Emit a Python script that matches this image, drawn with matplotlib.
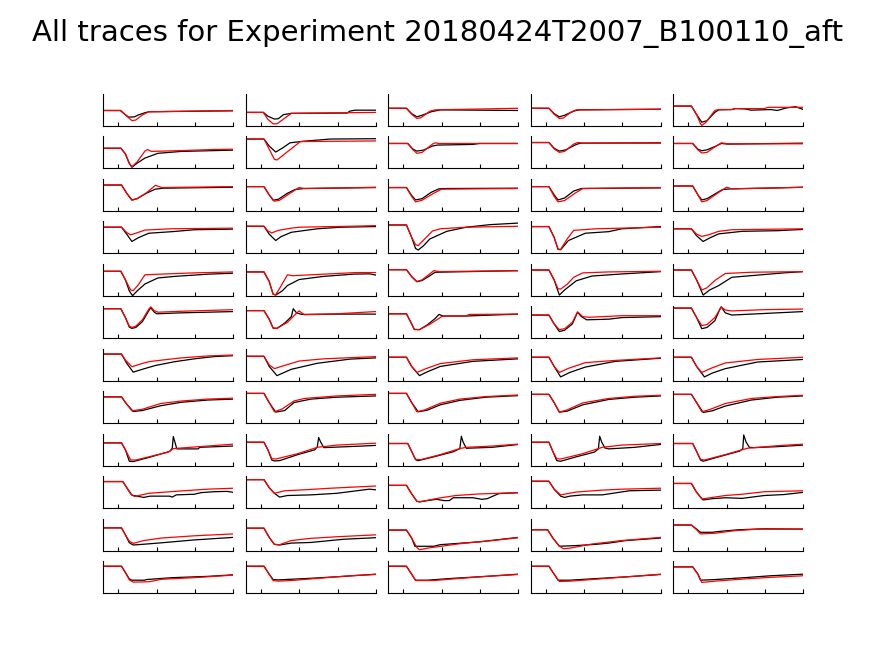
import matplotlib
matplotlib.use('Agg')
import matplotlib.pyplot as plt

title = 'All traces for Experiment 20180424T2007_B100110_aft'

# keypoints per panel as (time, value) in axis units (x 0..10, y 0..10)
# measured = black trace, fitted = red trace; indexed [row][col]
measured = [
    [[(0,4.8),(1.3,4.8),(1.6,3.8),(1.95,2.7),(2.4,2.8),(2.7,3.4),(3.2,4.1),(3.5,4.4),(10,4.7)],
     [(0,4.2),(1.35,4.2),(1.7,3.0),(2.2,2.1),(2.5,2.2),(2.9,3.5),(3.5,3.9),(7.8,4.0),(8.0,4.6),(8.4,4.9),(10,4.9)],
     [(0,5.5),(1.4,5.5),(1.8,3.8),(2.2,2.8),(2.6,3.3),(3.3,4.4),(4.0,5.0),(10,4.8)],
     [(0,5.5),(1.4,5.5),(1.8,3.8),(2.2,2.8),(2.6,3.3),(3.3,4.6),(3.7,5.0),(10,5.2)],
     [(0,6.2),(1.4,6.2),(1.8,3.5),(2.2,1.1),(2.6,1.6),(3.2,4.2),(3.5,5.0),(4.5,5.1),(4.8,5.4),(5.5,5.3),(6.0,4.9),(7.5,5.1),(8.0,4.8),(8.7,5.6),(9.4,6.0),(10,5.1)]],
    [[(0,6.3),(1.35,6.3),(1.7,4.5),(2.0,1.5),(2.2,0.3),(2.6,1.6),(3.2,3.2),(4.2,4.7),(6.0,5.3),(10,5.7)],
     [(0,9.2),(1.4,9.2),(1.8,7.0),(2.3,5.1),(2.8,6.3),(3.4,8.0),(4.2,8.4),(5.0,8.7),(6.5,9.2),(10,9.3)],
     [(0,7.8),(1.5,7.8),(1.9,6.0),(2.2,5.4),(2.7,5.7),(3.4,7.0),(3.8,7.3),(6.5,7.5),(7.0,7.8),(10,7.8)],
     [(0,8.1),(1.4,8.1),(1.8,6.3),(2.2,5.4),(2.7,5.8),(3.4,7.3),(3.8,7.9),(10,8.0)],
     [(0,7.8),(1.5,7.8),(1.9,6.0),(2.2,5.5),(2.6,5.8),(3.3,7.0),(3.7,7.8),(4.2,7.6),(10,7.9)]],
    [[(0,8.1),(1.4,8.1),(1.8,5.5),(2.2,3.4),(2.6,3.8),(3.3,5.5),(4.0,6.8),(4.6,7.1),(10,7.4)],
     [(0,7.6),(1.4,7.6),(1.8,5.0),(2.1,3.3),(2.5,3.6),(3.2,5.5),(3.8,6.7),(4.5,7.0),(10,7.3)],
     [(0,7.3),(1.4,7.3),(1.8,4.8),(2.1,3.4),(2.6,3.8),(3.3,5.8),(3.9,6.9),(4.5,7.0),(10,7.1)],
     [(0,7.6),(1.4,7.6),(1.8,5.0),(2.1,3.4),(2.6,4.0),(3.3,6.2),(3.9,7.0),(10,7.2)],
     [(0,7.8),(1.5,7.8),(1.9,5.0),(2.2,3.4),(2.6,3.8),(3.3,5.5),(3.8,6.7),(4.5,6.9),(8.0,7.2),(10,7.4)]],
    [[(0,8.2),(1.4,8.2),(1.8,6.0),(2.2,3.7),(2.7,4.9),(3.5,6.3),(5.3,6.8),(7.0,7.4),(10,7.6)],
     [(0,8.5),(1.4,8.5),(1.8,6.0),(2.3,4.0),(2.7,5.2),(3.5,6.6),(5.5,7.7),(7.3,8.2),(10,8.4)],
     [(0,8.9),(1.4,8.9),(1.8,5.0),(2.1,1.5),(2.3,1.0),(2.7,2.3),(3.2,4.5),(4.5,6.9),(6.0,8.2),(7.8,9.0),(10,9.5)],
     [(0,8.4),(1.4,8.4),(1.8,5.0),(2.1,1.2),(2.3,1.1),(2.9,4.0),(4.2,6.3),(6.0,6.8),(7.0,7.7),(10,8.4)],
     [(0,7.7),(1.4,7.7),(1.8,5.5),(2.3,3.7),(2.8,4.8),(3.5,6.1),(5.3,6.9),(8.0,7.1),(10,7.5)]],
    [[(0,7.7),(1.35,7.7),(1.7,5.0),(2.0,1.5),(2.25,0.0),(2.6,1.5),(3.2,3.7),(4.2,5.6),(5.5,6.1),(8.1,6.8),(10,7.1)],
     [(0,7.5),(1.4,7.5),(1.8,4.5),(2.1,0.5),(2.3,0.2),(2.8,1.5),(3.2,3.2),(4.1,5.1),(6.0,6.1),(8.3,6.8),(9.5,6.9),(10,6.5)],
     [(0,8.2),(1.4,8.2),(1.8,6.0),(2.2,4.4),(2.6,4.8),(3.2,6.3),(3.6,7.4),(10,7.9)],
     [(0,8.1),(1.4,8.1),(1.8,5.0),(2.2,0.2),(2.6,1.8),(3.5,4.7),(4.7,6.2),(6.8,6.8),(10,7.6)],
     [(0,8.1),(1.4,8.1),(1.8,5.0),(2.3,0.2),(2.8,1.8),(3.5,3.2),(4.5,5.8),(6.5,6.5),(8.5,7.2),(10,7.6)]],
    [[(0,9.3),(1.35,9.3),(1.7,6.5),(2.0,3.5),(2.2,3.1),(2.5,3.4),(3.0,5.2),(3.5,8.7),(3.65,9.6),(3.9,8.3),(4.1,7.7),(6.0,8.0),(10,8.4)],
     [(0,8.7),(1.4,8.7),(1.8,6.0),(2.1,3.2),(2.4,3.1),(3.0,4.8),(3.5,6.8),(3.65,9.3),(3.9,8.0),(4.3,7.5),(7.0,7.6),(10,7.6)],
     [(0,7.7),(1.4,7.7),(1.8,4.5),(2.0,2.8),(2.4,2.7),(3.0,4.2),(3.6,6.2),(3.9,7.5),(4.2,7.0),(6.0,7.0),(10,7.6)],
     [(0,7.3),(1.4,7.3),(1.8,4.5),(2.2,2.1),(2.6,2.5),(3.2,4.5),(3.6,8.2),(3.9,6.8),(4.3,5.8),(6.0,6.0),(7.0,6.5),(10,6.8)],
     [(0,9.5),(1.4,9.5),(1.8,6.5),(2.2,3.0),(2.6,3.4),(3.2,5.5),(3.6,9.3),(3.7,9.9),(4.0,8.0),(4.5,7.3),(7.0,7.8),(10,8.4)]],
    [[(0,8.4),(1.4,8.4),(1.8,5.5),(2.3,2.7),(3.0,3.6),(4.0,4.8),(5.5,6.0),(7.0,6.9),(8.5,7.6),(10,7.9)],
     [(0,7.7),(1.4,7.7),(1.8,4.5),(2.4,1.6),(3.5,3.6),(5.5,5.5),(8.0,6.8),(10,7.2)],
     [(0,7.4),(1.4,7.4),(1.8,4.5),(2.4,1.6),(3.0,2.8),(4.0,4.5),(6.5,6.1),(10,6.9)],
     [(0,7.4),(1.4,7.4),(1.8,4.5),(2.3,1.2),(3.0,2.6),(4.2,4.3),(6.5,6.1),(10,7.1)],
     [(0,7.4),(1.4,7.4),(1.8,4.5),(2.4,1.2),(3.0,2.4),(4.0,3.8),(6.5,5.9),(10,6.7)]],
    [[(0,8.3),(1.4,8.3),(1.8,6.0),(2.3,3.7),(3.0,4.0),(4.4,5.5),(6.0,6.6),(8.0,7.3),(10,7.6)],
     [(0,9.4),(1.4,9.4),(1.8,6.5),(2.3,3.5),(3.0,4.0),(3.7,6.5),(5.0,7.6),(7.0,8.2),(10,8.6)],
     [(0,9.4),(1.4,9.4),(1.8,6.5),(2.3,3.6),(3.0,4.1),(4.0,5.8),(5.5,7.2),(7.5,8.2),(10,8.7)],
     [(0,9.1),(1.4,9.1),(1.8,6.5),(2.2,3.5),(2.8,3.8),(4.0,5.8),(6.0,7.5),(8.0,8.2),(10,8.6)],
     [(0,9.1),(1.4,9.1),(1.8,6.5),(2.3,3.4),(3.0,3.9),(4.0,5.4),(6.0,7.3),(8.0,8.2),(10,8.6)]],
    [[(0,7.2),(1.4,7.2),(1.7,5.0),(2.0,1.4),(2.3,1.3),(3.5,2.6),(5.1,4.5),(5.3,5.5),(5.38,9.2),(5.5,7.5),(5.65,5.3),(7.3,5.3),(7.4,5.8),(10,6.2)],
     [(0,7.4),(1.4,7.4),(1.7,5.0),(2.0,1.8),(2.2,1.5),(2.6,1.6),(4.0,3.5),(5.3,5.0),(5.5,6.0),(5.6,8.9),(5.75,7.5),(6.0,5.7),(9.0,6.2),(10,6.4)],
     [(0,7.0),(1.5,7.0),(1.8,4.5),(2.1,1.9),(2.3,1.6),(3.5,2.8),(5.0,4.4),(5.5,5.4),(5.62,9.3),(5.75,7.5),(6.0,5.5),(8.0,5.8),(10,6.7)],
     [(0,7.4),(1.4,7.4),(1.7,4.5),(2.0,1.6),(2.3,1.4),(3.5,2.8),(4.9,4.3),(5.2,5.3),(5.3,9.3),(5.45,7.5),(5.7,5.6),(6.0,5.3),(8.0,5.8),(10,6.7)],
     [(0,7.0),(1.5,7.0),(1.8,4.5),(2.1,1.8),(2.3,1.4),(3.5,2.8),(5.1,4.6),(5.35,5.3),(5.42,9.7),(5.6,7.5),(5.85,5.8),(6.2,5.7),(8.0,6.0),(10,6.5)]],
    [[(0,8.4),(1.5,8.4),(1.8,6.5),(2.2,4.1),(2.6,3.8),(3.1,3.4),(3.6,3.8),(5.1,3.8),(5.3,3.5),(5.6,4.2),(7.0,4.4),(7.5,4.9),(8.5,5.2),(9.5,5.3),(10,5.0)],
     [(0,9.0),(1.4,9.0),(1.8,6.5),(2.2,4.7),(2.6,3.5),(3.2,4.0),(5.0,4.2),(7.0,4.7),(9.5,6.0),(10,5.8)],
     [(0,7.2),(1.4,7.2),(1.8,4.5),(2.2,2.2),(2.4,2.0),(3.0,2.4),(3.7,2.8),(4.3,2.4),(4.7,2.4),(5.0,3.3),(6.5,3.3),(7.2,2.8),(7.6,3.0),(8.5,4.6),(10,4.9)],
     [(0,8.5),(1.4,8.5),(1.8,6.0),(2.3,3.8),(2.6,3.4),(3.0,3.8),(4.0,4.2),(5.5,4.2),(6.3,4.7),(7.6,5.5),(10,5.7)],
     [(0,7.8),(1.4,7.8),(1.8,5.0),(2.3,2.6),(3.0,3.0),(4.0,3.3),(5.3,3.1),(7.0,4.0),(8.5,4.3),(10,5.0)]],
    [[(0,7.2),(1.4,7.2),(1.7,5.0),(2.0,2.5),(2.3,1.8),(3.0,2.0),(4.5,2.5),(7.0,3.4),(10,4.2)],
     [(0,7.1),(1.4,7.1),(1.8,4.2),(2.2,2.0),(2.6,1.8),(3.5,2.4),(5.0,2.6),(7.5,3.6),(10,4.1)],
     [(0,6.5),(1.4,6.5),(1.8,4.0),(2.05,1.4),(3.5,1.4),(4.0,1.9),(7.0,2.8),(10,4.2)],
     [(0,6.6),(1.3,6.6),(1.7,4.0),(2.2,1.4),(3.4,1.6),(5.0,2.0),(6.0,2.4),(7.3,3.2),(10,4.0)],
     [(0,8.1),(1.4,8.1),(1.8,6.8),(2.1,5.8),(3.0,5.8),(3.6,6.1),(5.0,6.6),(7.0,6.9),(10,6.8)]],
    [[(0,8.5),(1.4,8.5),(1.7,6.5),(2.0,4.5),(2.2,4.1),(3.2,4.1),(3.3,4.3),(5.3,4.9),(8.0,5.3),(10,5.8)],
     [(0,8.5),(1.4,8.5),(1.8,6.0),(2.1,4.3),(2.5,4.2),(3.0,4.3),(5.0,4.7),(7.5,5.3),(10,6.0)],
     [(0,8.5),(1.4,8.5),(1.8,6.0),(2.1,4.1),(3.0,4.1),(5.0,4.7),(7.5,5.3),(10,6.0)],
     [(0,8.5),(1.4,8.5),(1.8,6.0),(2.1,4.1),(3.0,4.1),(5.0,4.6),(7.5,5.2),(10,5.9)],
     [(0,8.3),(1.5,8.3),(1.9,6.0),(2.1,4.1),(3.2,4.3),(5.5,4.9),(7.5,5.5),(10,6.0)]],
]

fitted = [
    [[(0,4.8),(1.35,4.8),(1.7,3.4),(2.2,1.6),(2.5,1.8),(3.0,3.4),(3.5,4.4),(10,4.8)],
     [(0,4.2),(1.35,4.2),(1.7,2.0),(2.1,0.6),(2.4,0.6),(3.0,2.4),(3.5,3.9),(10,4.2)],
     [(0,5.5),(1.4,5.5),(1.8,3.6),(2.2,2.3),(2.5,2.5),(3.2,4.6),(3.6,5.0),(10,5.5)],
     [(0,5.5),(1.4,5.5),(1.8,3.6),(2.2,2.3),(2.5,2.4),(3.1,4.3),(3.5,5.0),(10,5.2)],
     [(0,6.2),(1.4,6.2),(1.8,3.5),(2.1,0.6),(2.2,0.1),(2.5,1.0),(3.2,4.8),(3.5,5.1),(4.5,5.1),(4.8,5.4),(7.0,5.4),(7.3,5.8),(10,5.8)]],
    [[(0,6.3),(1.35,6.3),(1.7,4.5),(2.0,1.5),(2.2,0.5),(2.6,2.0),(3.2,5.4),(3.4,5.9),(3.7,5.3),(5.5,5.5),(8.5,5.9),(10,6.0)],
     [(0,9.2),(1.4,9.2),(1.8,6.0),(2.2,2.8),(2.4,2.6),(3.2,5.2),(4.2,8.4),(10,8.6)],
     [(0,7.8),(1.5,7.8),(1.9,5.8),(2.2,4.7),(2.6,5.0),(3.4,7.6),(3.6,8.0),(3.9,7.8),(10,7.8)],
     [(0,8.1),(1.4,8.1),(1.8,6.1),(2.2,5.0),(2.6,5.3),(3.3,7.6),(3.6,8.1),(4.0,7.9),(10,7.9)],
     [(0,7.8),(1.5,7.8),(1.9,5.8),(2.2,4.8),(2.6,5.0),(3.3,7.0),(3.7,8.0),(4.2,7.7),(10,7.7)]],
    [[(0,8.1),(1.4,8.1),(1.8,5.5),(2.2,3.3),(2.6,3.8),(3.3,5.6),(4.0,8.0),(4.5,7.3),(10,7.6)],
     [(0,7.6),(1.4,7.6),(1.8,5.0),(2.2,3.0),(2.6,3.3),(3.4,5.5),(4.1,7.3),(4.5,7.0),(7.5,7.2),(10,7.4)],
     [(0,7.3),(1.4,7.3),(1.8,4.5),(2.1,2.8),(2.6,3.3),(3.4,5.3),(4.1,6.8),(10,7.0)],
     [(0,7.6),(1.4,7.6),(1.8,4.5),(2.1,2.8),(2.6,3.2),(3.4,5.5),(4.0,7.0),(10,7.3)],
     [(0,7.8),(1.5,7.8),(1.9,5.0),(2.2,2.8),(2.6,3.2),(3.4,5.5),(4.1,7.4),(4.5,6.9),(8.0,7.2),(10,7.4)]],
    [[(0,8.2),(1.4,8.2),(1.8,6.5),(2.1,5.8),(2.5,6.3),(3.2,7.3),(5.2,7.7),(10,7.9)],
     [(0,8.5),(1.4,8.5),(1.7,7.0),(2.0,6.4),(2.5,7.2),(3.5,7.9),(4.1,8.2),(8.0,8.5),(10,8.7)],
     [(0,8.9),(1.4,8.9),(1.8,5.0),(2.1,2.7),(2.3,2.4),(2.8,4.5),(3.4,7.0),(4.0,7.7),(6.0,8.2),(10,8.5)],
     [(0,8.4),(1.4,8.4),(1.8,5.0),(2.1,1.3),(2.3,1.2),(2.8,4.5),(3.3,7.2),(5.0,7.7),(10,8.2)],
     [(0,7.7),(1.4,7.7),(1.8,6.0),(2.2,5.3),(2.7,5.8),(3.5,6.9),(4.5,7.4),(10,7.7)]],
    [[(0,7.7),(1.35,7.7),(1.7,5.0),(2.1,1.8),(2.3,1.6),(2.7,3.5),(3.2,6.6),(5.0,6.9),(7.0,7.2),(10,7.5)],
     [(0,7.5),(1.4,7.5),(1.8,4.5),(2.1,0.5),(2.3,0.3),(2.7,3.0),(3.2,6.6),(3.6,6.3),(6.0,6.8),(8.5,7.3),(10,7.3)],
     [(0,8.2),(1.4,8.2),(1.8,6.0),(2.2,4.5),(2.6,5.0),(3.2,6.9),(3.5,7.9),(3.9,7.6),(10,7.9)],
     [(0,8.1),(1.4,8.1),(1.8,5.0),(2.1,2.2),(2.3,2.1),(2.8,3.6),(3.3,5.8),(4.0,7.2),(6.0,7.5),(10,7.7)],
     [(0,8.1),(1.4,8.1),(1.8,5.0),(2.2,1.8),(2.6,2.5),(3.2,4.8),(4.0,7.0),(6.0,7.4),(10,7.6)]],
    [[(0,9.3),(1.35,9.3),(1.7,6.5),(2.0,3.8),(2.2,3.4),(2.5,3.8),(3.0,5.8),(3.5,9.2),(3.65,9.9),(3.9,8.7),(4.2,8.2),(6.0,8.5),(10,9.0)],
     [(0,8.7),(1.4,8.7),(1.8,6.0),(2.1,3.2),(2.4,3.1),(3.2,5.0),(3.9,7.9),(4.1,8.6),(4.5,7.4),(7.0,7.7),(10,8.4)],
     [(0,7.7),(1.4,7.7),(1.8,4.5),(2.0,2.7),(2.4,2.7),(3.2,4.4),(4.1,6.8),(4.3,7.0),(6.0,7.0),(6.2,7.5),(10,7.6)],
     [(0,7.3),(1.4,7.3),(1.8,4.5),(2.2,2.7),(2.6,3.0),(3.2,5.0),(3.6,8.3),(4.0,6.8),(4.5,6.6),(7.0,7.1),(10,7.1)],
     [(0,9.5),(1.4,9.5),(1.8,6.5),(2.2,4.0),(2.6,4.3),(3.2,6.5),(3.7,9.8),(4.0,8.9),(4.5,8.6),(7.0,9.0),(10,9.2)]],
    [[(0,8.4),(1.4,8.4),(1.7,6.5),(2.2,4.4),(2.8,5.2),(3.5,6.0),(4.5,6.5),(6.0,7.2),(8.0,7.8),(10,8.1)],
     [(0,7.7),(1.4,7.7),(1.8,5.0),(2.2,3.8),(2.8,4.6),(4.1,6.2),(6.0,6.9),(10,7.6)],
     [(0,7.4),(1.4,7.4),(1.8,4.5),(2.2,2.6),(2.9,3.8),(4.0,5.4),(6.5,6.6),(10,7.2)],
     [(0,7.4),(1.4,7.4),(1.8,4.5),(2.2,2.6),(2.9,3.9),(4.2,5.7),(6.5,6.4),(10,7.2)],
     [(0,7.4),(1.4,7.4),(1.8,4.5),(2.2,2.6),(2.9,3.9),(4.0,5.6),(6.5,6.7),(10,7.4)]],
    [[(0,8.3),(1.4,8.3),(1.8,6.0),(2.2,3.9),(3.0,4.4),(4.4,6.2),(6.0,7.0),(8.0,7.6),(10,7.9)],
     [(0,9.4),(1.4,9.4),(1.8,6.5),(2.2,3.6),(2.8,4.5),(3.7,7.0),(4.5,7.8),(7.0,8.6),(10,9.1)],
     [(0,9.4),(1.4,9.4),(1.8,6.5),(2.2,3.6),(2.8,4.2),(4.0,6.3),(5.5,7.6),(7.5,8.4),(10,8.9)],
     [(0,9.1),(1.4,9.1),(1.8,6.5),(2.2,3.5),(2.8,4.2),(4.0,6.4),(6.0,7.8),(8.0,8.5),(10,8.8)],
     [(0,9.1),(1.4,9.1),(1.8,6.5),(2.2,3.6),(2.8,4.3),(4.0,6.2),(6.0,7.8),(8.0,8.4),(10,8.8)]],
    [[(0,7.2),(1.4,7.2),(1.7,5.0),(2.1,1.8),(2.5,1.8),(3.5,2.8),(5.0,4.3),(5.4,5.4),(7.0,5.9),(10,6.8)],
     [(0,7.4),(1.4,7.4),(1.7,5.0),(2.0,2.2),(2.3,2.1),(4.0,3.8),(5.5,5.8),(7.0,6.5),(10,7.1)],
     [(0,7.0),(1.5,7.0),(1.8,4.5),(2.1,2.0),(2.5,1.9),(4.0,3.5),(5.5,5.4),(6.0,5.8),(8.0,6.2),(10,6.8)],
     [(0,7.4),(1.4,7.4),(1.7,4.5),(2.0,2.2),(2.3,2.1),(4.0,3.8),(5.5,5.8),(7.0,6.5),(10,7.0)],
     [(0,7.0),(1.5,7.0),(1.8,4.5),(2.1,2.0),(2.4,1.8),(4.0,3.5),(5.7,5.5),(8.0,6.3),(10,6.8)]],
    [[(0,8.4),(1.5,8.4),(1.8,6.5),(2.1,4.5),(2.4,3.7),(3.5,4.7),(5.8,5.4),(8.0,6.0),(10,6.3)],
     [(0,9.0),(1.4,9.0),(1.8,6.5),(2.2,4.7),(3.0,5.5),(4.5,5.8),(6.5,6.3),(10,7.0)],
     [(0,7.2),(1.4,7.2),(1.8,4.5),(2.2,2.2),(2.4,2.0),(3.9,3.2),(5.2,4.0),(7.0,4.5),(10,4.9)],
     [(0,8.5),(1.4,8.5),(1.8,6.0),(2.3,4.2),(3.5,5.1),(5.5,5.7),(7.0,6.0),(10,6.3)],
     [(0,7.8),(1.4,7.8),(1.8,5.0),(2.2,2.9),(4.0,4.0),(5.3,4.4),(7.0,5.2),(10,5.5)]],
    [[(0,7.2),(1.4,7.2),(1.7,5.0),(2.0,3.0),(2.3,2.3),(3.1,3.2),(4.5,4.0),(7.0,4.7),(10,5.3)],
     [(0,7.1),(1.4,7.1),(1.8,4.2),(2.2,2.0),(2.6,1.9),(3.5,3.2),(5.0,3.9),(7.0,4.4),(10,5.0)],
     [(0,6.5),(1.4,6.5),(1.8,4.0),(2.2,1.0),(2.4,0.3),(3.0,0.8),(5.5,2.2),(8.0,3.2),(10,4.1)],
     [(0,6.6),(1.3,6.6),(1.7,4.0),(2.2,1.5),(2.5,0.6),(3.0,0.8),(4.7,2.1),(7.0,3.2),(10,4.2)],
     [(0,8.1),(1.4,8.1),(1.8,6.6),(2.1,5.3),(3.2,5.5),(4.7,6.3),(6.5,6.8),(10,6.8)]],
    [[(0,8.5),(1.4,8.5),(1.7,6.5),(2.0,4.2),(2.3,3.5),(3.5,3.6),(4.5,4.4),(7.0,4.9),(10,5.7)],
     [(0,8.5),(1.4,8.5),(1.8,6.0),(2.1,4.0),(2.5,3.8),(3.5,4.0),(5.0,4.5),(8.0,5.5),(10,5.9)],
     [(0,8.5),(1.4,8.5),(1.8,6.0),(2.1,4.0),(3.5,4.0),(5.0,4.5),(7.5,5.3),(10,5.9)],
     [(0,8.5),(1.4,8.5),(1.8,6.0),(2.2,3.7),(3.0,3.8),(5.0,4.4),(7.5,5.2),(10,6.0)],
     [(0,8.3),(1.5,8.3),(1.9,6.0),(2.2,3.4),(3.2,3.8),(5.5,4.5),(7.5,5.0),(10,5.5)]],
]

tick_pos = [1.15, 4.1, 7.05, 10]

fig, axes = plt.subplots(12, 5, figsize=(8.75, 6.56), dpi=100)
fig.subplots_adjust(left=103.3/875, right=803.3/875, top=1-94/656, bottom=1-593.2/656,
                    wspace=0.095, hspace=0.34)

for r in range(12):
    for c in range(5):
        ax = axes[r, c]
        k = measured[r][c]
        f = fitted[r][c]
        ax.plot([p[0] for p in k], [p[1] for p in k], color='k', lw=0.9)
        ax.plot([p[0] for p in f], [p[1] for p in f], color='r', lw=0.9)
        ax.set_xlim(0, 10)
        ax.set_ylim(0, 10)
        ax.spines['top'].set_visible(False)
        ax.spines['right'].set_visible(False)
        ax.spines['left'].set_linewidth(0.8)
        ax.spines['bottom'].set_linewidth(0.8)
        ax.set_xticks(tick_pos)
        ax.set_xticklabels([])
        ax.set_yticks([])
        ax.tick_params(axis='x', direction='in', length=3, width=0.8)

fig.text(0.5, 1-33/656, title, ha='center', va='center', fontsize=21)

fig.savefig('out.png', dpi=100)
